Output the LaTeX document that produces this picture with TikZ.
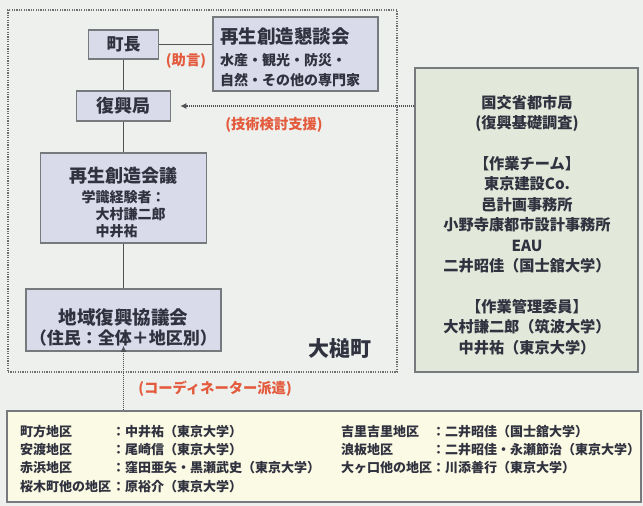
\documentclass[tikz,border=0pt]{standalone}
\usepackage{fontspec}
\setmainfont{Noto Sans CJK JP}
\usetikzlibrary{arrows.meta}
\definecolor{bg}{HTML}{EEF0ED}
\definecolor{boxfill}{HTML}{DADBEA}
\definecolor{greenfill}{HTML}{E2E9DA}
\definecolor{yellowfill}{HTML}{FBFAE4}
\definecolor{edge}{HTML}{777A7D}
\definecolor{ink}{HTML}{30323F}
\definecolor{redtxt}{HTML}{E35A3C}
\definecolor{conn}{HTML}{505256}
\tikzset{
  orgbox/.style={draw=edge, line width=1.5pt, fill=boxfill, text=ink, inner sep=0pt, align=center},
  redlabel/.style={text=redtxt, font=\bfseries\fontsize{14.3}{16}\selectfont, inner sep=0pt},
  solidlink/.style={draw=conn, line width=1.6pt},
  dottedlink/.style={draw=conn, line width=1.2pt, dash pattern=on 1pt off 1pt, -{Latex[length=6pt,width=6pt]}},
  townframe/.style={draw=edge!90!black, line width=1.3pt, dash pattern=on 1.2pt off 1.2pt, inner sep=0pt},
  plaintext/.style={text=ink, inner sep=0pt},
}
\begin{document}
\begin{tikzpicture}[x=1pt,y=-1pt]
\fill[bg] (0,0) rectangle (643,506);
\useasboundingbox (0,0) rectangle (643,506);

% town frame
\node[townframe, minimum width=389pt, minimum height=362pt] (town) at (202.5,191) {};

% right box
\node[draw=edge, line width=1.5pt, fill=greenfill, minimum width=223pt, minimum height=304pt, inner sep=0pt] (kokko) at (526.5,220) {};
\node[plaintext, align=center, font=\bfseries\fontsize{15.2}{20.4}\selectfont] (kokkotext) at (527,225) {国交省都市局\\
(復興基礎調査)\\[20.4pt]
【作業チーム】\\
東京建設Co.\\
邑計画事務所\\
小野寺康都市設計事務所\\
EAU\\
二井昭佳（国士舘大学）\\[20.4pt]
【作業管理委員】\\
大村謙二郎（筑波大学）\\
中井祐（東京大学）};

% bottom box
\node[draw=edge, line width=1.5pt, fill=yellowfill, minimum width=634pt, minimum height=91pt, inner sep=0pt] (coordbox) at (324,456.5) {};

% org boxes
\node[orgbox, minimum width=70pt, minimum height=29pt, font=\bfseries\fontsize{17}{20}\selectfont] (chocho) at (123.5,44.5) {町長};
\node[orgbox, minimum width=165pt, minimum height=74pt, align=left, text width=151pt, font=\bfseries\fontsize{14}{20}\selectfont] (kondan) at (295.5,54) {\rule{0pt}{22pt}{\fontsize{18.5}{22}\selectfont 再生創造懇談会}\\[2pt]
水産・観光・防災・\\
自然・その他の専門家};
\node[orgbox, minimum width=94pt, minimum height=30pt, font=\bfseries\fontsize{18}{20}\selectfont] (fukko) at (123.5,106) {復興局};
\node[orgbox, minimum width=166pt, minimum height=90pt, font=\bfseries\fontsize{14}{17}\selectfont] (saisei) at (123.5,198) {\rule{0pt}{28pt}{\fontsize{18}{22}\selectfont 再生創造会議}\\[5pt]
\begin{tabular}{@{}l@{}}学識経験者：\\\hspace{1em}大村謙二郎\\\hspace{1em}中井祐\end{tabular}};
\node[orgbox, minimum width=195pt, minimum height=62pt, font=\bfseries\fontsize{17}{21}\selectfont] (chiiki) at (123.5,320) {\rule{0pt}{30pt}{\fontsize{18.5}{22}\selectfont 地域復興協議会}\\[-1pt]
（住民：全体＋地区別）};

\node[plaintext, font=\bfseries\fontsize{21}{24}\selectfont] (otsuchi) at (340,349) {大槌町};

% connectors
\draw[solidlink] (chocho.east) -- (chocho.east -| kondan.west);
\draw[solidlink] (chocho.south) -- (fukko.north);
\draw[solidlink] (fukko.south) -- (saisei.north);
\draw[solidlink] (saisei.south) -- (chiiki.north);
\draw[dottedlink] (kokko.west |- fukko.east) -- ([xshift=9pt]fukko.east);
\draw[dottedlink] (coordbox.north -| chiiki.south) -- ([yshift=6pt]chiiki.south);

% red labels
\node[redlabel] (jogen) at (186,61) {(助言)};
\node[redlabel] (gijutsu) at (274,125) {(技術検討支援)};
\node[redlabel] (coordinator) at (215,389) {(コーディネーター派遣)};

% district lists
\node[plaintext, anchor=north west, align=left, font=\bfseries\fontsize{13}{18.2}\selectfont] (districtsA) at (20,425) {\makebox[92pt][l]{町方地区}：中井祐（東京大学）\\
\makebox[92pt][l]{安渡地区}：尾崎信（東京大学）\\
\makebox[92pt][l]{赤浜地区}：窪田亜矢・黒瀬武史（東京大学）\\
\makebox[92pt][l]{桜木町他の地区}：原裕介（東京大学）};
\node[plaintext, anchor=north west, align=left, font=\bfseries\fontsize{13}{18.2}\selectfont] (districtsB) at (341,425) {\makebox[91pt][l]{吉里吉里地区}：二井昭佳（国士舘大学）\\
\makebox[91pt][l]{浪板地区}：二井昭佳・永瀬節治（東京大学）\\
\makebox[91pt][l]{大ヶ口他の地区}：川添善行（東京大学）};
\end{tikzpicture}
\end{document}
